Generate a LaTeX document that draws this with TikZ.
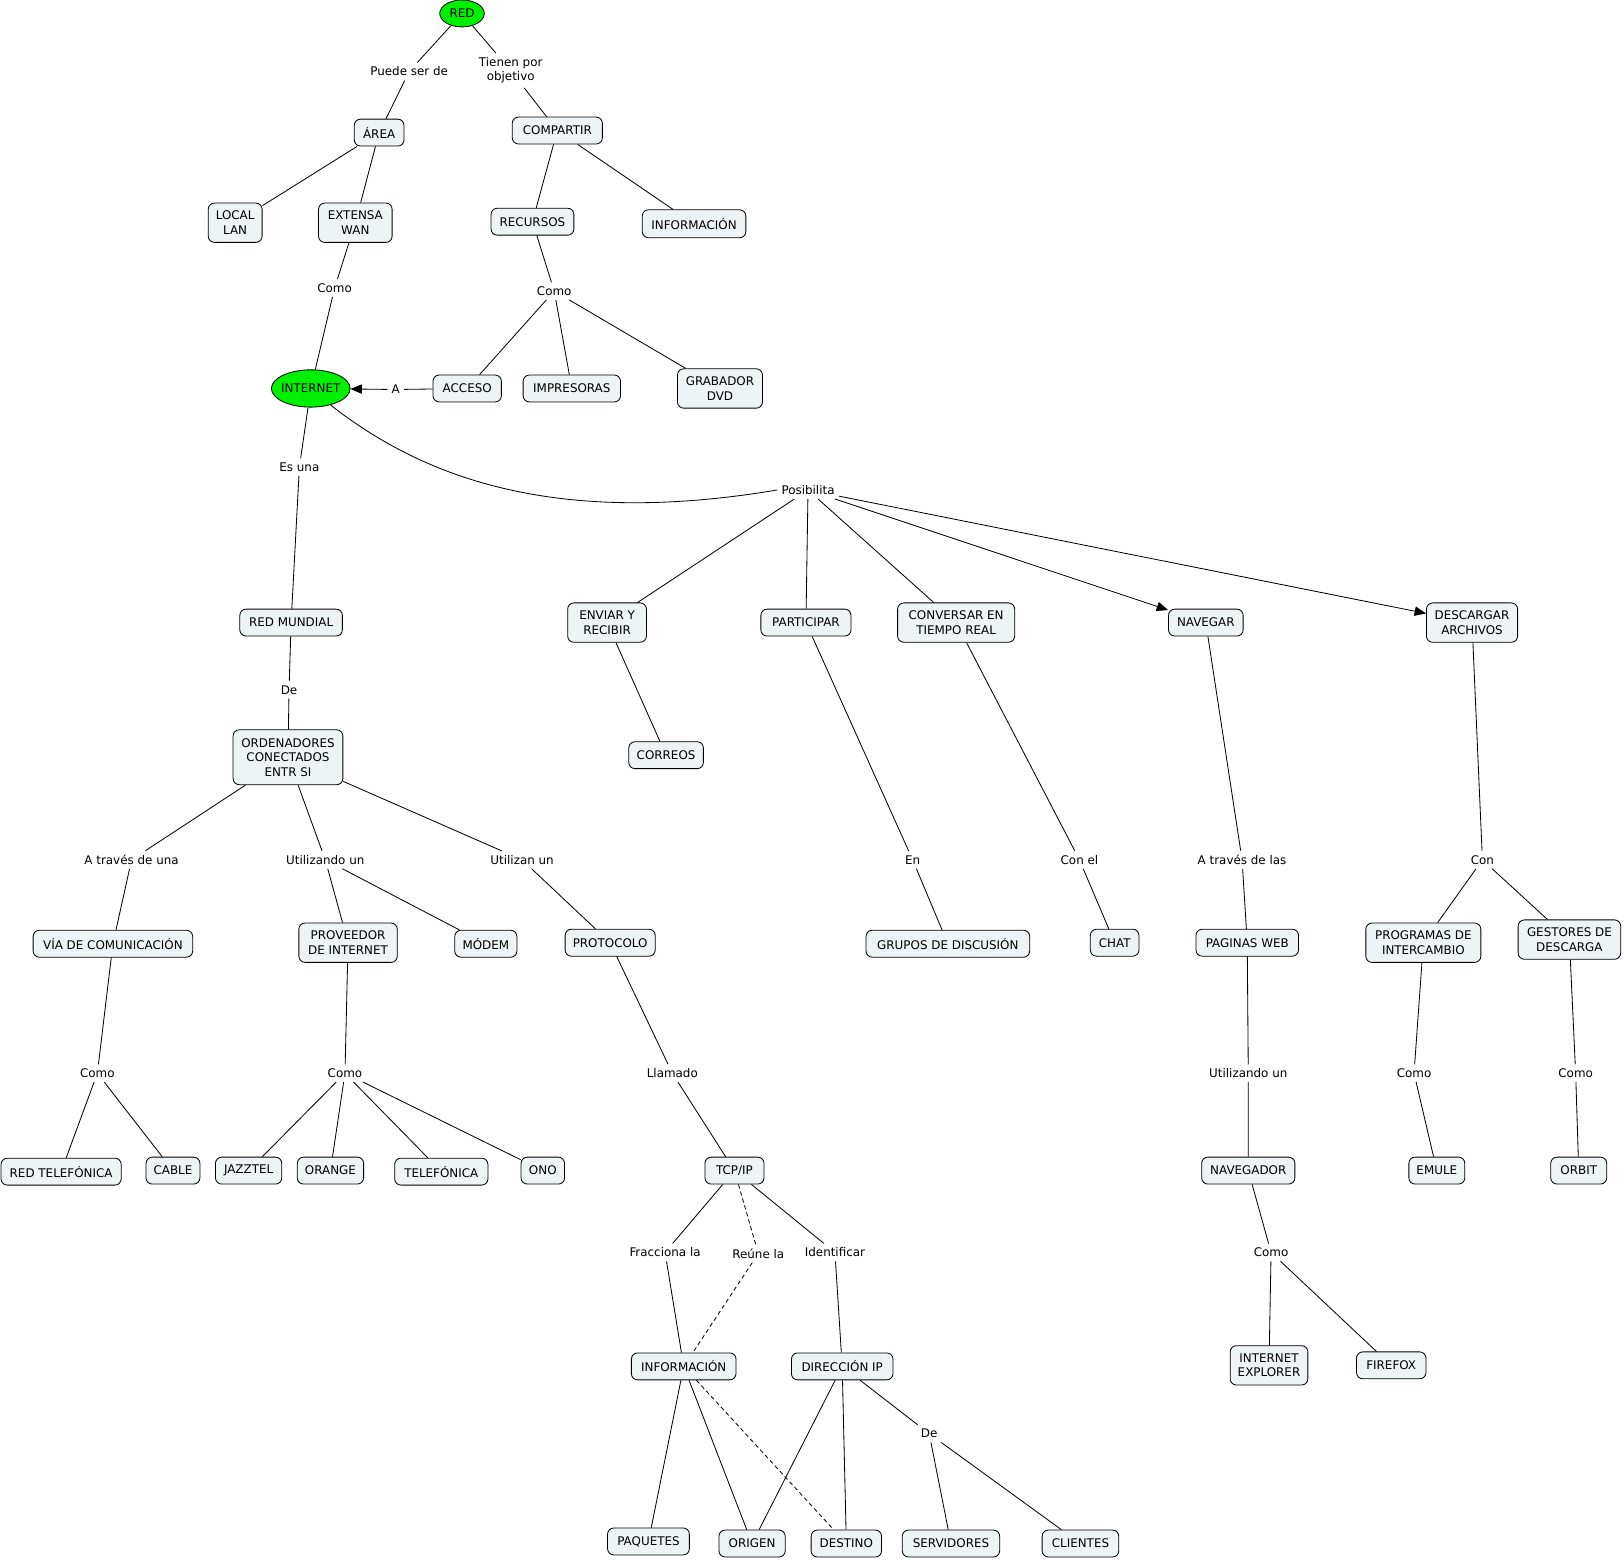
\documentclass[tikz,border=0pt]{standalone}
\usepackage{fontspec}
\setmainfont{DejaVu Sans}
\usetikzlibrary{arrows.meta,shapes.geometric}
\definecolor{cfill}{RGB}{238,243,245}
\definecolor{cgreen}{RGB}{0,240,0}
\begin{document}
\begin{tikzpicture}[x=1pt,y=-1pt,
  every node/.style={font=\fontsize{11.5}{14}\selectfont},
  cpt/.style={draw, rectangle, rounded corners=6pt, fill=cfill, line width=0.8pt,
    inner xsep=6pt, inner ysep=2pt, minimum height=26pt, align=center},
  cpttwo/.style={cpt, minimum height=38pt},
  cptthree/.style={cpt, minimum height=53pt},
  oval/.style={draw, ellipse, fill=cgreen, line width=0.8pt, inner sep=0pt},
  lnk/.style={inner sep=4pt, align=center},
  edge/.style={draw, line width=0.8pt},
  dedge/.style={draw, line width=0.8pt, dash pattern=on 4pt off 3pt},
  aedge/.style={draw, line width=0.8pt, -{Triangle[length=11pt,width=9pt]}}
]
\path[use as bounding box, fill=white] (0,0) rectangle (1567.7,1505);

% concepts
\node[oval, minimum width=43pt, minimum height=26pt] (red) at (446,13) {\makebox[0pt]{RED}};
\node[cpt, minimum width=48pt] (area) at (366,128) {ÁREA};
\node[cpt, minimum width=87pt] (comp) at (538,126) {COMPARTIR};
\node[cpttwo, minimum width=52pt] (local) at (227,215) {LOCAL\\LAN};
\node[cpttwo, minimum width=71pt] (ext) at (343,215) {EXTENSA\\WAN};
\node[cpt, minimum width=80pt] (recur) at (514,214) {RECURSOS};
\node[cpt, minimum width=100pt, minimum height=27pt] (infoa) at (670,216) {INFORMACIÓN};
\node[oval, minimum width=76pt, minimum height=36pt] (inet) at (300,375) {\makebox[0pt]{INTERNET}};
\node[cpt, minimum width=66pt] (acceso) at (451,375) {ACCESO};
\node[cpt, minimum width=94pt] (impr) at (552,375) {IMPRESORAS};
\node[cpttwo, minimum width=82pt] (grab) at (695,375) {GRABADOR\\DVD};
\node[cpt, minimum width=99pt] (redm) at (281,601) {RED MUNDIAL};
\node[cpttwo, minimum width=76pt] (enviar) at (586,601) {ENVIAR Y\\RECIBIR};
\node[cpt, minimum width=87pt] (partic) at (778,601) {PARTICIPAR};
\node[cpttwo, minimum width=113pt] (conv) at (923,601) {CONVERSAR EN\\TIEMPO REAL};
\node[cpt, minimum width=72pt] (naveg) at (1164,601) {NAVEGAR};
\node[cpttwo, minimum width=88pt] (desc) at (1421,601) {DESCARGAR\\ARCHIVOS};
\node[cpt, minimum width=72pt] (correos) at (643,729) {CORREOS};
\node[cptthree, minimum width=106pt] (orden) at (278,731) {ORDENADORES\\CONECTADOS\\ENTR SI};
\node[cpt, minimum width=154pt] (via) at (109,911) {VÍA DE COMUNICACIÓN};
\node[cpttwo, minimum width=95pt] (prov) at (336,910) {PROVEEDOR\\DE INTERNET};
\node[cpt, minimum width=60pt] (modem) at (469,911) {MÓDEM};
\node[cpt, minimum width=87pt] (proto) at (589,910) {PROTOCOLO};
\node[cpt, minimum width=158pt] (grupos) at (915,911) {GRUPOS DE DISCUSIÓN};
\node[cpt, minimum width=47pt] (chat) at (1076,910) {CHAT};
\node[cpt, minimum width=99pt] (pweb) at (1204,910) {PAGINAS WEB};
\node[cpttwo, minimum width=111pt] (progr) at (1374,910) {PROGRAMAS DE\\INTERCAMBIO};
\node[cpttwo, minimum width=99pt] (gest) at (1515,907) {GESTORES DE\\DESCARGA};
\node[cpt, minimum width=116pt] (redtel) at (59,1131) {RED TELEFÓNICA};
\node[cpt, minimum width=52pt] (cable) at (167,1130) {CABLE};
\node[cpt, minimum width=64pt] (jazz) at (240,1130) {JAZZTEL};
\node[cpt, minimum width=64pt] (orange) at (319,1130) {ORANGE};
\node[cpt, minimum width=90pt] (telef) at (426,1131) {TELEFÓNICA};
\node[cpt, minimum width=42pt] (ono) at (524,1130) {ONO};
\node[cpt, minimum width=57pt] (tcp) at (709,1130) {TCP/IP};
\node[cpt, minimum width=90pt] (navdor) at (1205,1130) {NAVEGADOR};
\node[cpt, minimum width=54pt] (emule) at (1387,1130) {EMULE};
\node[cpt, minimum width=54pt] (orbit) at (1524,1130) {ORBIT};
\node[cpt, minimum width=101pt] (infob) at (660,1319) {INFORMACIÓN};
\node[cpt, minimum width=98pt] (dirip) at (813,1319) {DIRECCIÓN IP};
\node[cpttwo, minimum width=75pt] (iexp) at (1225,1318) {INTERNET\\EXPLORER};
\node[cpt, minimum width=67pt] (firefox) at (1343,1318) {FIREFOX};
\node[cpt, minimum width=79pt] (paq) at (626,1488) {PAQUETES};
\node[cpt, minimum width=64pt] (origen) at (726,1490) {ORIGEN};
\node[cpt, minimum width=68pt] (destino) at (817,1490) {DESTINO};
\node[cpt, minimum width=94pt] (serv) at (918,1490) {SERVIDORES};
\node[cpt, minimum width=74pt] (clientes) at (1043,1490) {CLIENTES};

% linking phrases
\node[lnk] (la) at (395,69) {Puede ser de};
\node[lnk] (lb) at (493,68) {Tienen por\\objetivo};
\node[lnk] (lc) at (323,278) {Como};
\node[lnk] (ld) at (535,281) {Como};
\node[lnk] (le) at (382,376) {A};
\node[lnk] (lf) at (289,451) {Es una};
\node[lnk] (lg) at (780,473) {Posibilita};
\node[lnk] (lh) at (279,666) {De};
\node[lnk] (li) at (127,830) {A través de una};
\node[lnk] (lj) at (314,830) {Utilizando un};
\node[lnk] (lk) at (504,830) {Utilizan un};
\node[lnk] (ll) at (881,830) {En};
\node[lnk] (lm) at (1042,830) {Con el};
\node[lnk] (ln) at (1199,830) {A través de las};
\node[lnk] (lo) at (1431,830) {Con};
\node[lnk] (lp) at (94,1036) {Como};
\node[lnk] (lq) at (333,1036) {Como};
\node[lnk] (lr) at (649,1036) {Llamado};
\node[lnk] (ls) at (1205,1036) {Utilizando un};
\node[lnk] (lt) at (1365,1036) {Como};
\node[lnk] (lu) at (1521,1036) {Como};
\node[lnk] (lv) at (642,1209) {Fracciona la};
\node[lnk] (lw) at (732,1210) {Reúne la};
\node[lnk] (lx) at (806,1209) {Identificar};
\node[lnk] (ly) at (1227,1209) {Como};
\node[lnk] (lz) at (897,1384) {De};

% connectors
\path[edge] (red) -- (la) (la) -- (area);
\path[edge] (red) -- (lb) (lb) -- (comp);
\path[edge] (area) -- (local) (area) -- (ext);
\path[edge] (comp) -- (recur) (comp) -- (infoa);
\path[edge] (ext) -- (lc) (lc) -- (inet);
\path[edge] (recur) -- (ld) (ld) -- (acceso) (ld) -- (impr) (ld) -- (grab);
\path[edge] (acceso) -- (le);
\path[aedge] (le) -- (inet);
\path[edge] (inet) -- (lf) (lf) -- (redm);
\path[edge] (inet.-40) .. controls (405,458) and (530,510) .. (lg.west);
\path[edge] (lg) -- (enviar) (lg) -- (partic) (lg) -- (conv);
\path[aedge] (lg) -- (naveg);
\path[aedge] (lg) -- (desc);
\path[edge] (enviar) -- (correos);
\path[edge] (partic) -- (ll) (ll) -- (grupos);
\path[edge] (conv) -- (lm) (lm) -- (chat);
\path[edge] (naveg) -- (ln) (ln) -- (pweb);
\path[edge] (desc) -- (lo) (lo) -- (progr) (lo) -- (gest);
\path[edge] (redm) -- (lh) (lh) -- (orden);
\path[edge] (orden) -- (li) (li) -- (via);
\path[edge] (orden) -- (lj) (lj) -- (prov) (lj) -- (modem);
\path[edge] (orden) -- (lk) (lk) -- (proto);
\path[edge] (via) -- (lp) (lp) -- (redtel) (lp) -- (cable);
\path[edge] (prov) -- (lq) (lq) -- (jazz) (lq) -- (orange) (lq) -- (telef) (lq) -- (ono);
\path[edge] (proto) -- (lr) (lr) -- (tcp);
\path[edge] (tcp) -- (lv) (lv) -- (infob);
\path[dedge] (tcp) -- (lw) (lw) -- (infob);
\path[edge] (tcp) -- (lx) (lx) -- (dirip);
\path[edge] (infob) -- (paq) (infob) -- (origen);
\path[dedge] (infob) -- (destino);
\path[edge] (dirip) -- (origen) (dirip) -- (destino);
\path[edge] (dirip) -- (lz) (lz) -- (serv) (lz) -- (clientes);
\path[edge] (pweb) -- (ls) (ls) -- (navdor);
\path[edge] (navdor) -- (ly) (ly) -- (iexp) (ly) -- (firefox);
\path[edge] (progr) -- (lt) (lt) -- (emule);
\path[edge] (gest) -- (lu) (lu) -- (orbit);
\end{tikzpicture}
\end{document}
